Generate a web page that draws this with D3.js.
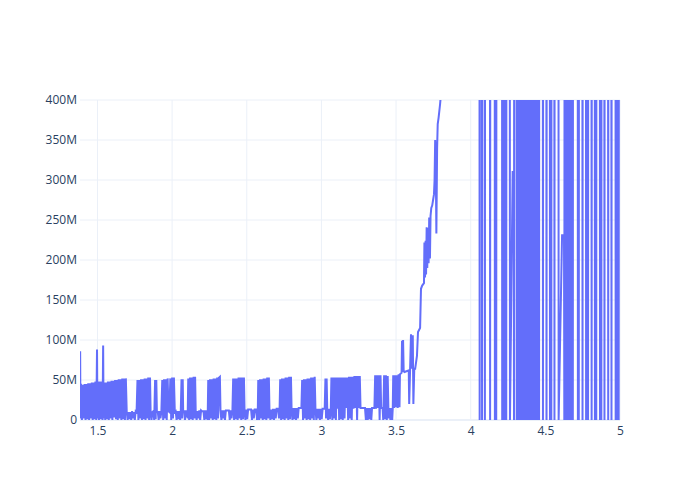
<!DOCTYPE html>
<html><head><meta charset="utf-8">
<script src="https://cdn.jsdelivr.net/npm/d3@7"></script>
<style>body{margin:0;background:#fff}svg{font-family:"Open Sans",sans-serif}</style>
</head><body><svg id="c" width="700" height="500"></svg>
<script>
// values: x in axis units, y in millions
const xTicks = [1.5, 2, 2.5, 3, 3.5, 4, 4.5, 5];
const yTicks = [0, 50, 100, 150, 200, 250, 300, 350, 400];

const segmentEarly = [
[1.383,3],[1.384,86],[1.386,2],[1.388,44],
[1.390,44],[1.396,0],[1.402,44],[1.408,2],[1.414,45],[1.420,0],[1.426,45],[1.432,1],[1.438,46],[1.444,0],[1.450,46],[1.456,2],[1.462,47],[1.468,0],[1.474,47],[1.480,1],[1.486,48],
[1.492,0],[1.497,88],[1.500,2],
[1.504,48],[1.510,0],[1.516,48],[1.522,1],[1.528,48],[1.534,0],[1.538,93],[1.541,2],[1.546,47],[1.552,0],[1.558,47],[1.564,1],[1.570,48],[1.576,0],[1.582,48],[1.588,2],[1.594,49],[1.600,0],[1.606,49],[1.612,3],[1.618,50],[1.624,1],[1.630,50],[1.636,0],[1.642,51],[1.648,2],[1.654,51],[1.660,0],[1.666,52],[1.672,1],[1.678,52],[1.684,0],[1.690,52],
[1.696,10],[1.702,0],[1.708,10],[1.714,1],[1.720,10],[1.726,0],[1.732,11],[1.738,2],[1.744,10],[1.750,0],[1.756,11],[1.762,10],
[1.768,50],[1.774,0],[1.780,50],[1.786,2],[1.792,51],[1.798,0],[1.804,51],[1.810,1],[1.816,52],[1.822,0],[1.828,52],[1.834,2],[1.840,53],[1.846,0],[1.852,53],
[1.856,10],[1.862,0],[1.868,10],[1.874,11],[1.880,0],
[1.886,50],[1.890,1],[1.894,50],[1.898,10],
[1.904,10],[1.910,0],[1.916,11],[1.922,2],[1.928,10],
[1.934,50],[1.940,0],[1.946,51],[1.952,2],[1.958,51],[1.964,0],[1.970,52],
[1.976,11],[1.982,10],
[1.988,52],[1.994,0],[2.000,53],[2.006,2],[2.012,53],[2.018,10],
[2.024,11],[2.030,0],[2.036,11],[2.042,1],[2.048,11],[2.054,0],[2.058,11],
[2.063,51],[2.067,2],[2.071,51],[2.074,11],
[2.080,11],[2.086,0],[2.092,11],[2.098,11],[2.104,2],
[2.108,52],[2.114,0],[2.120,53],[2.126,1],[2.132,53],[2.138,0],[2.144,54],[2.150,2],[2.154,54]
];

const segmentMiddle = [
[2.158,11],[2.164,0],[2.170,11],[2.176,2],[2.182,12],[2.188,0],[2.194,12],[2.200,11],[2.210,11],[2.216,0],[2.222,12],[2.228,1],[2.234,12],[2.238,0],
[2.242,50],[2.248,0],[2.254,51],[2.260,2],[2.266,51],[2.272,0],[2.278,52],[2.284,1],[2.290,52],[2.296,0],[2.302,53],[2.308,2],[2.314,53],[2.320,54],
[2.324,12],[2.330,0],[2.336,12],[2.342,2],[2.348,12],[2.354,0],[2.360,12],[2.370,12],[2.380,12],[2.386,0],[2.392,12],[2.398,2],[2.404,12],
[2.409,52],[2.415,0],[2.421,52],[2.427,1],[2.433,52],[2.439,0],[2.445,53],[2.451,2],[2.457,53],[2.463,0],[2.469,53],[2.475,1],[2.481,53],
[2.485,12],[2.491,0],[2.497,13],[2.503,1],[2.509,13],[2.519,13],[2.529,13],[2.535,0],[2.541,13],[2.547,2],[2.553,13],[2.563,13],[2.569,0],[2.574,13],
[2.577,50],[2.583,0],[2.589,51],[2.595,2],[2.601,51],[2.607,0],[2.613,52],[2.619,1],[2.625,52],[2.631,0],[2.637,53],[2.643,2],[2.648,53],
[2.652,13],[2.658,0],[2.664,13],[2.670,1],[2.676,14],[2.682,0],[2.688,14],[2.694,2],[2.700,14],[2.710,14],[2.716,2],[2.720,14],
[2.724,51],[2.730,0],[2.736,52],[2.742,1],[2.748,52],[2.754,0],[2.760,53],[2.766,2],[2.772,53],[2.778,0],[2.784,54],[2.790,1],[2.796,54],
[2.800,15],[2.806,0],[2.812,15],[2.818,1],[2.824,15],[2.830,0],[2.836,15],[2.842,2],[2.848,15],[2.858,15],[2.866,15],
[2.871,50],[2.877,0],[2.883,51],[2.889,2],[2.895,51],[2.901,0],[2.907,52],[2.913,1],[2.919,52],[2.925,0],[2.931,53],[2.937,2],[2.943,53],[2.949,0],[2.955,54],
[2.960,14],[2.966,0],[2.972,14],[2.978,2],[2.984,14],[2.990,0],[2.996,14],[3.002,1],[3.008,14],[3.016,14],[3.022,14],
[3.027,52],[3.031,2],[3.035,52],[3.039,14],
[3.045,0],[3.051,14],[3.057,1],[3.063,14],
[3.067,53],[3.073,0],[3.079,53],[3.085,2],[3.091,53],[3.097,0],[3.103,53],
[3.108,14],
[3.113,53],[3.119,0],[3.125,53],[3.131,1],[3.137,53],[3.143,0],[3.149,53],[3.155,2],[3.161,53],[3.166,15],
[3.173,53],[3.179,0],[3.185,54],[3.191,2],[3.197,54],[3.203,0],[3.209,54],[3.215,14],[3.221,55],[3.227,15],[3.233,55],[3.239,0],[3.245,55],[3.251,15],[3.257,55]
];

const segmentRise = [
[3.262,15],[3.280,15],[3.292,15],
[3.298,0],[3.304,15],[3.310,0],[3.316,15],[3.322,1],[3.328,15],[3.334,0],[3.339,15],
[3.355,15],
[3.360,56],[3.366,14],[3.372,56],[3.378,15],[3.384,56],[3.390,0],[3.396,56],[3.400,15],
[3.410,15],
[3.414,0],[3.420,56],[3.426,1],[3.432,56],[3.438,0],[3.444,55],[3.450,2],[3.456,15],
[3.462,0],[3.468,15],[3.474,0],[3.478,15],
[3.481,56],[3.487,15],[3.493,56],[3.499,16],[3.505,56],[3.511,15],[3.517,57],[3.523,16],[3.526,57],
[3.530,58],[3.537,59],
[3.540,99],[3.543,60],[3.547,100],[3.551,61],[3.556,60],
[3.570,61],[3.585,62],[3.588,20],[3.594,63],[3.600,107],[3.606,64],[3.612,106],[3.616,20],[3.622,64],[3.628,64],
[3.640,80],[3.647,110],[3.661,115],[3.667,164],[3.675,168],[3.687,171],
[3.690,222],[3.694,178],[3.698,224],[3.701,182],[3.705,241],[3.709,190],[3.714,240],[3.718,196],[3.722,253],[3.727,202],[3.731,255],[3.736,265],[3.742,268],[3.748,275],[3.754,282],[3.758,300],[3.762,350],[3.766,320],[3.770,233],[3.775,340],[3.779,370],[3.785,378],[3.795,395],[3.802,410],
[3.850,620],[3.920,850],[3.980,1100],[4.040,1300]
];

const segmentLate = [
[4.057,1350],[4.060,0],[4.063,1400],
[4.073,1380],[4.076,0],[4.079,1420],
[4.092,1360],[4.095,0],[4.098,1450],
[4.127,1400],[4.130,0],[4.133,1500],
[4.159,1420],[4.162,0],[4.167,1390],[4.171,0],[4.174,1460],
[4.208,1500],[4.211,0],[4.216,1480],[4.221,0],[4.226,1510],[4.231,0],[4.2345,1470],[4.238,0],[4.241,1500],
[4.260,1480],[4.263,0],[4.281,310],[4.288,310],[4.290,0],[4.293,1520],
[4.305,1500],[4.308,0],[4.313,1550],[4.318,0],[4.323,1600],[4.328,0],[4.333,1580],[4.338,0],[4.343,1620],[4.348,0],[4.353,1650],[4.358,0],[4.363,1600],[4.368,0],[4.373,1680],[4.378,0],[4.383,1700],[4.388,0],[4.393,1650],[4.398,0],[4.403,1720],[4.408,0],[4.413,1700],[4.418,0],[4.423,1750],[4.428,0],[4.433,1690],[4.438,0],[4.443,1760],[4.448,0],[4.453,1720],[4.458,0],[4.461,1740],
[4.481,1700],[4.484,0],[4.487,1720],
[4.505,1690],[4.508,0],[4.511,1700],
[4.528,1700],[4.531,0],[4.5355,1680],[4.540,0],[4.543,1700],
[4.558,1690],[4.561,0],[4.564,1700],
[4.586,1710],[4.589,0],[4.612,231],[4.625,231],[4.627,0],[4.632,1650],
[4.637,0],[4.642,1620],[4.647,0],[4.652,1640],[4.657,0],[4.662,1650],[4.667,0],[4.672,1660],[4.677,0],[4.6805,1640],[4.684,0],[4.687,1650],
[4.715,1650],[4.718,0],[4.721,1670],[4.724,0],[4.727,1650],
[4.746,1660],[4.749,0],[4.752,1640],
[4.770,1650],[4.773,0],[4.7795,1670],[4.786,0],[4.789,1650],
[4.807,1660],[4.810,0],[4.813,1640],
[4.829,1650],[4.832,0],[4.8365,1660],[4.841,0],[4.844,1640],
[4.863,1650],[4.866,0],[4.8705,1660],[4.875,0],[4.878,1640],
[4.893,1650],[4.896,0],[4.899,1660],
[4.918,1650],[4.921,0],[4.924,1660],
[4.940,1650],[4.943,0],[4.946,1670],
[4.968,1660],[4.971,0],[4.976,1650],[4.981,0],[4.986,1670],[4.991,0],[4.995,1660],[5.000,1650]
];

const data = [...segmentEarly, ...segmentMiddle, ...segmentRise, ...segmentLate].map(d => ({x: d[0], y: d[1]}));

const W = 700, H = 500, m = {l: 80, t: 100, r: 80, b: 80};
const iw = W - m.l - m.r, ih = H - m.t - m.b;
const svg = d3.select("#c");
const x = d3.scaleLinear().domain([1.383, 5]).range([0, iw]);
const y = d3.scaleLinear().domain([0, 400]).range([ih, 0]);
const g = svg.append("g").attr("transform", `translate(${m.l},${m.t})`);

svg.append("defs").append("clipPath").attr("id", "clip")
  .append("rect").attr("width", iw).attr("height", ih);

// grid
g.append("g").selectAll("line").data(xTicks).join("line")
  .attr("x1", d => x(d)).attr("x2", d => x(d)).attr("y1", 0).attr("y2", ih)
  .attr("stroke", "#ebf0f8").attr("stroke-width", 1);
g.append("g").selectAll("line").data(yTicks.filter(d => d !== 0)).join("line")
  .attr("y1", d => y(d)).attr("y2", d => y(d)).attr("x1", 0).attr("x2", iw)
  .attr("stroke", "#ebf0f8").attr("stroke-width", 1);
g.append("line").attr("x1", 0).attr("x2", iw).attr("y1", y(0)).attr("y2", y(0))
  .attr("stroke", "#ebf0f8").attr("stroke-width", 2);

// axes (labels only, plotly style)
const xAxis = d3.axisBottom(x).tickValues(xTicks).tickSize(0).tickPadding(6).tickFormat(d3.format("~g"));
const xa = g.append("g").attr("transform", `translate(0,${ih})`).call(xAxis);
const yAxis = d3.axisLeft(y).tickValues(yTicks).tickSize(0).tickPadding(3).tickFormat(d => d === 0 ? "0" : d + "M");
const ya = g.append("g").call(yAxis);
[xa, ya].forEach(a => {
  a.select(".domain").remove();
  a.selectAll("text").attr("fill", "#2a3f5f").style("font-size", "12px").style("font-family", '"Open Sans", sans-serif');
});

// line
const line = d3.line().x(d => x(d.x)).y(d => y(d.y));
g.append("path").datum(data).attr("clip-path", "url(#clip)")
  .attr("d", line).attr("fill", "none").attr("stroke", "#636efa").attr("stroke-width", 2);
</script></body></html>
